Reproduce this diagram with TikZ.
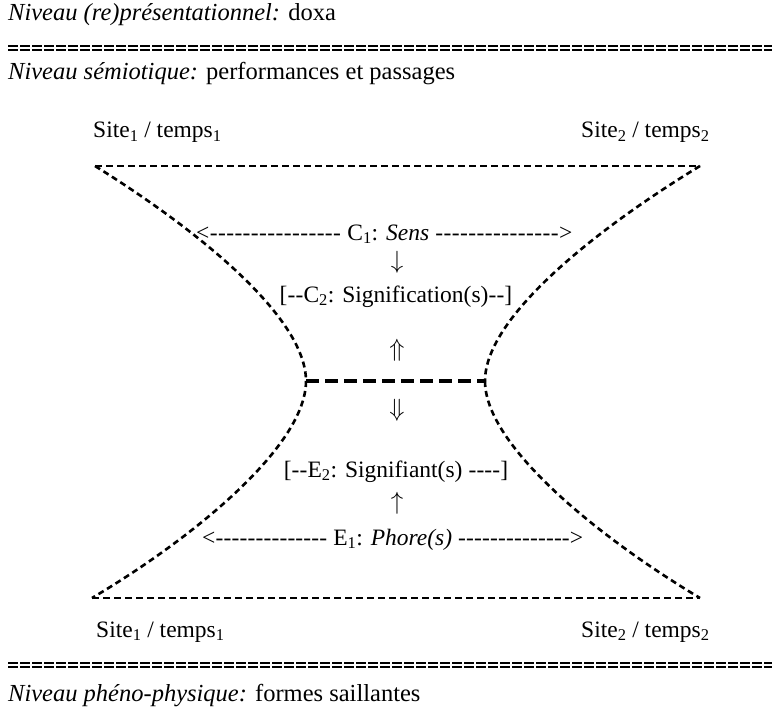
\documentclass[tikz,border=0pt]{standalone}
\usepackage{fontspec}
\setmainfont{Liberation Serif}
\newcommand\hy[1]{\hbox to #1{\xleaders\hbox{-}\hfill}}
\tikzset{
  txt/.style={anchor=base west, inner sep=0pt, font=\fontsize{23.5}{28}\selectfont},
  lvl/.style={anchor=base west, inner sep=0pt, font=\fontsize{24.5}{29}\selectfont},
  ctxt/.style={anchor=base, inner sep=0pt, font=\fontsize{23.5}{28}\selectfont},
  arr/.style={anchor=center, inner sep=0pt, font=\fontsize{23.5}{28}\selectfont},
  curve/.style={line width=2.6pt, dash pattern=on 6pt off 4pt},
  edge/.style={line width=2.8pt, dash pattern=on 7pt off 4pt},
  mid/.style={line width=3.8pt, dash pattern=on 13pt off 6pt},
  dbl/.style={line width=1.1pt, dash pattern=on 10pt off 2pt},
}
\begin{document}
\begin{tikzpicture}[x=1pt,y=-1pt]
\useasboundingbox (0,0) rectangle (772,709);
\fill[white] (0,0) rectangle (772,709);

% level texts
\node[lvl] (t1) at (8,21) {\textit{Niveau (re)présentationnel:} doxa};
\node[lvl] (t2) at (8,80) {\textit{Niveau sémiotique:} performances et passages};
\node[lvl] (t3) at (8,701) {\textit{Niveau phéno-physique:} formes saillantes};

% double dashed separators
\coordinate (s1a) at (8,46); \coordinate (s1b) at (772,46);
\coordinate (s2a) at (8,50); \coordinate (s2b) at (772,50);
\coordinate (s3a) at (8,663); \coordinate (s3b) at (772,663);
\coordinate (s4a) at (8,667); \coordinate (s4b) at (772,667);
\draw[dbl] (s1a) -- (s1b);
\draw[dbl] (s2a) -- (s2b);
\draw[dbl] (s3a) -- (s3b);
\draw[dbl] (s4a) -- (s4b);

% site labels
\node[txt] (st1) at (93,138) {Site\textsubscript{1} / temps\textsubscript{1}};
\node[txt] (st2) at (581,138) {Site\textsubscript{2} / temps\textsubscript{2}};
\node[txt] (sb1) at (96,637) {Site\textsubscript{1} / temps\textsubscript{1}};
\node[txt] (sb2) at (581,637) {Site\textsubscript{2} / temps\textsubscript{2}};

% shape corners
\coordinate (TL) at (95,166);
\coordinate (TR) at (700,166);
\coordinate (BL) at (92,598);
\coordinate (BR) at (700,598);
\coordinate (ML) at (306,381);
\coordinate (MR) at (485,381);

\draw[edge] (TL) -- (TR);
\draw[edge] (BL) -- (BR);
\draw[mid] (ML) -- (MR);
\draw[curve] (TL) .. controls (190,225) and (306,315) .. (ML);
\draw[curve] (ML) .. controls (306,447) and (190,540) .. (BL);
\draw[curve] (TR) .. controls (603,225) and (485,315) .. (MR);
\draw[curve] (MR) .. controls (485,447) and (603,540) .. (BR);

% central texts
\node[txt] (c1) at (196,240) {<\hy{132pt} C\textsubscript{1}: \textit{Sens} \hy{124pt}>};
\node[arr] (a1) at (397,262) {$\downarrow$};
\node[ctxt] (c2) at (396,302) {[\hy{16pt}C\textsubscript{2}: Signification(s)\hy{16pt}]};
\node[arr] (a2) at (397,350) {$\Uparrow$};
\node[arr] (a3) at (397,410) {$\Downarrow$};
\node[ctxt] (e2) at (396,477) {[\hy{16pt}E\textsubscript{2}: Signifiant(s) \hy{32pt}]};
\node[arr] (a4) at (397,503) {$\uparrow$};
\node[txt] (e1) at (202,545) {<\hy{112pt} E\textsubscript{1}: \textit{Phore(s)} \hy{112pt}>};
\end{tikzpicture}
\end{document}
